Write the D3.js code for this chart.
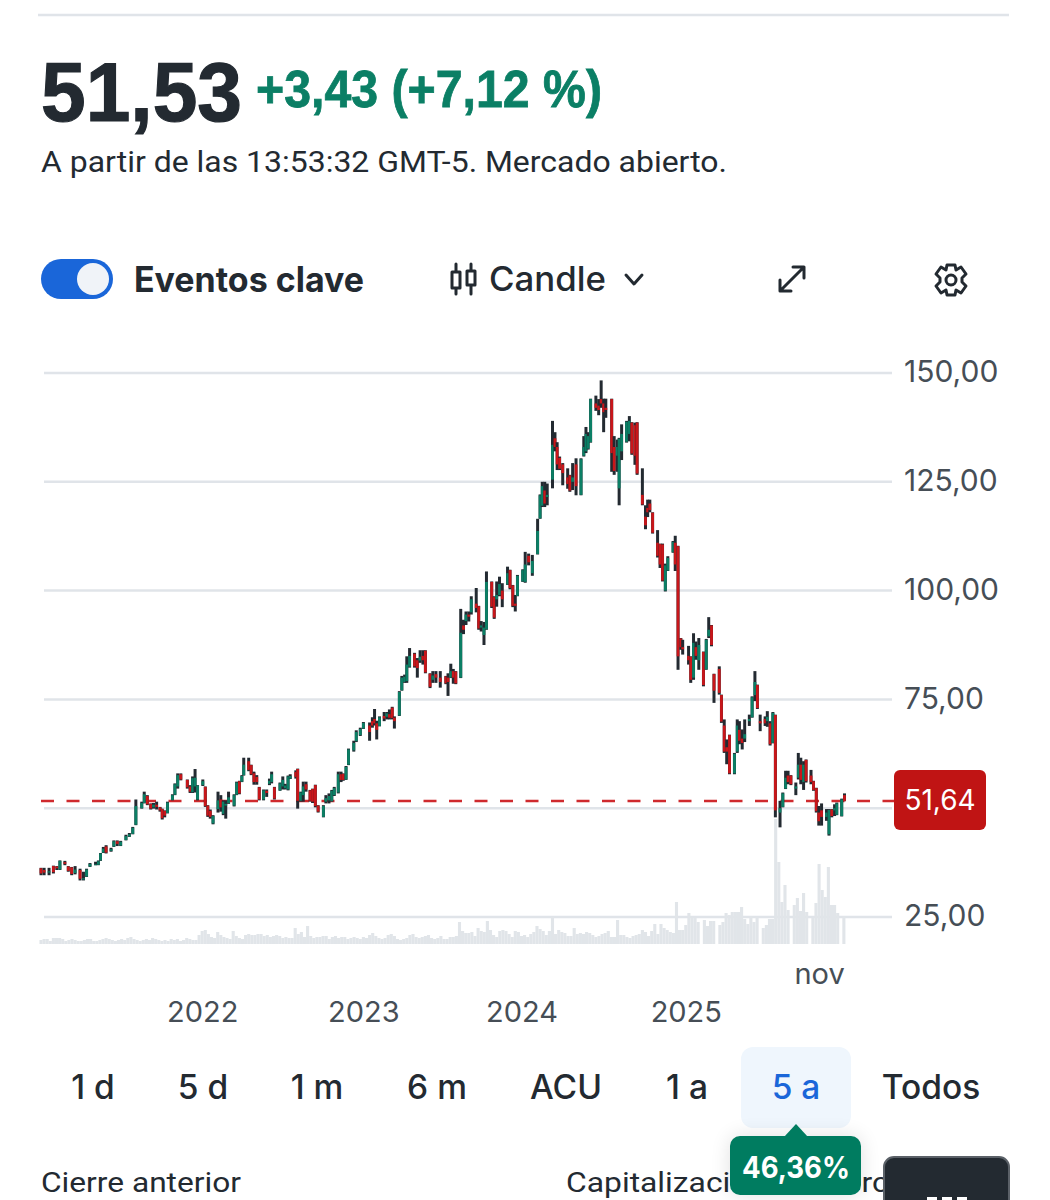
<!DOCTYPE html>
<html>
<head>
<meta charset="utf-8">
<script src="https://cdn.jsdelivr.net/npm/d3@7"></script>
<style>
html, body { margin: 0; padding: 0; background: #fff; }
svg { display: block; font-family: Inter, "Liberation Sans", sans-serif; }
.axis path, .axis line { display: none; }
</style>
</head>
<body>
<svg id="chart" width="1050" height="1200"></svg>
<script>
// semana de cada vela
var weeks = [
    0,1,2.6,4,5.1,6.1,7.7,8.8,9.9,11,
    12.6,13.7,14.7,15.8,17.6,18.5,19.2,20.1,21,22.6,
    23.5,24.6,25.7,27.4,28.5,29.6,30.6,32.5,33.3,34.3,
    35.4,36.3,37.3,38.4,39.1,39.9,40.8,42.4,43.2,44.1,
    45.1,47.2,48.1,48.9,49.7,50.5,52.2,53,53.8,54.6,
    55.5,57.1,58,58.8,59.6,60.5,62.3,63.1,64,64.8,
    65.4,67,67.8,68.7,69.6,70.4,71.8,72.8,73.7,74.4,
    75.3,77.1,78,78.8,79.7,80.4,82.2,82.8,83.8,84.6,
    85.5,86.8,87.6,88.5,89.4,91.1,91.9,92.9,93.8,94.6,
    95.9,96.8,97.5,98.4,99.2,100.9,101.7,103,104,106,
    106.9,107.6,108.3,109.2,110.7,111.6,112.4,113.3,114,115.6,
    116.4,117.3,118,118.9,120.5,121.4,122.3,123.2,124,125.5,
    126.4,127.4,128.8,130.6,131.3,132.2,133,133.8,135.4,136.3,
    137.1,138,138.8,140.4,141.2,142,142.9,143.7,145.4,146.2,
    147,147.9,148.8,150.5,151.3,152.2,153,153.7,155.4,156.2,
    157.3,158.5,160.2,161,161.7,162.5,163.3,165,165.8,166.5,
    167.3,168.3,169.9,170.6,171.5,172.6,174.2,175.1,175.8,176.5,
    177.3,179,179.9,180.7,181.5,182.2,184.1,184.9,185.9,186.5,
    187.3,188.9,189.8,190.6,191.6,192.3,194,195,195.7,196.4,
    197.3,198.9,199.7,200.5,201.4,202.2,203.9,204.6,205.5,206.4,
    207,208.9,209.6,210.5,211.3,212.2,213.7,214.6,215.4,216.3,
    217.1,218.8,219.5,220.4,221.2,222.1,223.7,224.6,225.3,226.2,
    227,228.5,229.4,230.3,231.1,232,233.6,234.3,235.2,236.1,
    236.9,238.4,239.3,240.2,241,241.9,243.5,244.3,245.1,246,
    246.8,248.4,249.2,250.1,250.9,251.8,253.4,254.2,255.1,256,
    256.7,258.3,259.2
];
var highs = [
    36.3,36.3,36.3,36.8,36.7,38,37.9,36.7,36.5,36.7,
    36.1,35.4,36.1,37.4,37.7,38,39.7,41.1,41.5,40.9,
    42.6,42.6,42.5,43.9,44.3,45.7,52,51.5,53.8,53,
    51.1,51.2,51.5,50.3,49.9,49.5,51.5,53.2,55.7,58,
    58,56.6,55.3,57.3,59,55.3,56.6,55,50.7,49.7,
    48.4,53.8,53,51.8,51.8,53.8,53.2,56.1,56.3,57.6,
    61.6,61.6,60,58.4,57.6,54.9,54.3,54.3,56.8,58.4,
    54.9,55.9,57.3,55.6,57.5,57.8,58.7,59.1,53.8,56.1,
    56.1,54.2,54.5,55.4,50.7,50.7,53,53.4,54.2,54.9,
    58.4,58.4,58,59.7,63.7,65.5,67.9,68.5,69.8,69.7,
    70.9,72.8,70.1,71.1,72.1,72.1,72.7,73.3,71.1,76.9,
    80.4,80.7,84.9,86.8,85.7,84.5,86.3,86.3,86.3,81,
    81.5,81.5,81.5,80.4,81,83.2,82,81.5,95.8,93.3,
    95.2,95.2,98.7,100.6,96.5,93,92.8,104.4,102.1,98.7,
    102.1,103.2,101.7,105.5,104.8,101.3,99,103.6,104.9,108.9,
    108.5,108.2,116.5,122.1,125,125,124.6,139,136.4,134.1,
    130.8,129.3,128.1,126.6,129.3,130.4,130.4,135.5,137.6,136.4,
    144.1,144.8,144,148.3,144.1,144.1,144.1,135.5,134.7,135.1,
    138.2,139,140.1,138.7,138.6,138.7,128.1,119.6,120.9,120.9,
    118,113.9,110.8,110.8,106.2,107.9,111.4,112.6,110.3,89.1,
    88.7,87.3,84.9,90.2,88.3,89.1,86,88.9,93.9,92.1,
    80.9,82.6,76.1,70.4,65.8,66.9,62.7,70.4,70,68.1,
    70.4,71.5,75.7,81.5,78.4,71.5,71.1,72.3,70,72.1,
    71.5,51.7,53.6,58.6,58.6,57.6,55.9,62.7,61.6,60.8,
    61.2,58.8,56.3,54.7,50.5,51.1,49.8,49.8,49.8,50.9,
    51.3,52.2,53.4
];
var lows = [
    34.6,34.6,34.6,35,35.8,35.8,36.9,35.4,34.6,34.8,
    33.4,33.4,34.2,36.5,36.9,36.9,37.9,39.7,39.6,40,
    41.1,41.3,41.3,42.6,43.4,44,46.1,49.9,51.1,50.7,
    49.7,49.9,49.7,49.2,47.4,47.9,48.8,51.8,53,54.5,
    56.4,54.5,53.5,53.5,53.6,51.8,55.1,50.3,48,47.6,
    46.3,49,49.2,48.4,47.6,51,50.4,53,53.2,56,
    57.5,58.5,57.6,55.4,55.4,51.8,51.8,52.6,55.3,55.7,
    52,54,54.3,54.3,54.1,56.7,56.8,49.9,51.5,51.5,
    53.8,51.5,51.2,50.2,49,47.9,51.1,51.1,51.5,52.8,
    53.4,56,56.3,56.5,59.9,63,65.2,66.6,68.2,65.5,
    68.5,69,65.8,68.8,70,70.4,70.4,70.4,68.3,71.2,
    77,78.8,78.8,82.3,82.3,80,83.4,83,81,77.6,
    78.8,78.8,77.7,78.5,75.8,79.9,78.6,78.5,79.9,90,
    92.1,92.9,94.5,95,91,90.6,87.5,91,96,93.5,
    96.3,98.7,96.2,101.3,100.3,96.2,95.2,98.7,102,101.8,
    105.8,103.4,108.3,116.5,119.2,119.2,119.6,123.5,132,127.7,
    127.7,124.2,123.4,122.7,123.1,121.9,121.9,130.8,131.6,132.4,
    134,141.3,140.3,142,136.4,139.7,127.3,126.6,127.3,119.6,
    130,134,134.3,131.2,128.9,126.6,119.6,114.1,116.9,118,
    113.1,107.6,105.2,102.1,99.8,104.5,108.7,104.5,81.8,86.4,
    85.3,83,78.8,79.5,84.1,81.8,78,81.8,89.1,87.2,
    74.2,76.1,69.6,62.7,60.1,57.8,57.8,62.7,64.7,63.5,
    65.2,68.9,70.8,74.6,72.8,67.7,68.9,68.7,64.4,64.9,
    47.9,45.6,50.2,54.4,55.5,55.3,53,56.6,55.5,54.2,
    55.9,55.5,54,49,46,46,47.1,43.7,47.9,48.2,
    48.4,48.1,51.6
];
var opens = [
    36.2,35.8,35.2,36.7,36.6,35.9,37.6,36.6,36.4,35.1,
    35.8,33.6,34.3,36.6,36.9,37,38,39.8,41.2,40.2,
    41.2,42.4,41.4,42.7,43.5,44.1,46.2,50,51.2,52.8,
    51,50.2,50.8,50.2,49.8,49.4,48.9,51.9,53.1,55,
    57.8,56.5,55,53.7,55,52,55.3,54.9,50.6,49.4,
    46.5,49.8,52,48.7,50.6,51.2,50.6,53.1,56.2,56.1,
    57.6,60.8,59.9,58,57.2,54.8,52,54,55.6,56,
    54.8,54.1,55,54.6,54.3,56.8,58.3,59,51.7,53,
    55.5,54.1,54.4,55.3,50.6,48,51.5,51.8,51.6,53,
    53.6,57.8,57.9,56.6,60,63.3,65.4,66.8,68.3,69,
    70,70.5,69.5,68.9,71.2,71,71.6,73.1,70.8,71.3,
    77.1,79,79.2,82.5,85.5,84,83.9,85,86.2,80.9,
    79.5,80.8,80,80.3,80,80,81.5,81.4,80,92,
    93,94.5,95,97,96.4,91.5,89.8,91.1,102,98.5,
    98,99,100,101.4,104.7,101.2,97,98.8,102.1,102,
    108,104,108.4,116.6,119.5,123,121.5,125.5,135,133,
    130.5,129,126,126.5,125,129,122,131,132,132.6,
    134.1,143,142.5,144,143,142,144,133,131,123.5,
    132,134.2,136,138.6,138,138.6,122,117,119,120,
    117.9,111,110.7,110.6,100,104.6,108.8,111,110.2,89,
    87,85,84.8,80,87,84,85.9,81.9,89.5,92,
    80.8,82,76,69,64,66.8,58,63,68,66,
    66,70,70.9,76,78.3,70,70.5,70,69.5,65,
    71.4,49,50.3,54.5,57.5,57.5,54.5,57,60,56,
    61.1,57.5,56.2,54.6,49,49.5,48,44,49.7,49.5,
    48.5,48.2,53
];
var closes = [
    35,35.2,35.5,35.3,36.2,37.9,37.2,35.6,34.9,35.9,
    33.8,33.9,35.9,37.2,37.1,37.8,39.6,40.7,39.8,40.6,
    42.4,41.8,42.3,43.6,44,45.5,50.5,51.2,53.2,50.9,
    49.9,50.8,50.3,49.5,47.7,48.3,51.3,53,55.5,57.6,
    56.6,54.8,53.8,56.9,57,55.2,56.2,50.5,48.3,48,
    48.2,51.8,50.2,51.5,51,52.5,53,55.9,53.4,57.4,
    60,58.8,57.8,56,56,52,54.1,53.5,56.3,57.8,
    52.2,55.7,56.5,55.2,57.3,57.4,57.2,51.7,53.6,55,
    54.3,51.7,51.5,50.5,49.2,50.5,52.3,52.8,54,54.6,
    57.8,56.5,56.5,59.5,63.5,65,67.5,68.2,69.6,67.5,
    69,69.5,68,70.9,70.6,71.8,70.8,70.7,70,76.7,
    80,80.2,83,85,82.6,82.2,84.8,84,81.2,77.9,
    80.5,80,79,78.7,79,81.5,80,78.7,90.3,91,
    94.5,94,98,96,91.3,92,91.5,102,96.3,93.8,
    99,101.5,98,104,100.6,96.5,96.5,103.4,104.7,106,
    106.5,106.8,113.7,121.9,124,120,122,133.5,133,129,
    128,127,124.5,123,126,124,130.2,133,136,135.5,
    144,142,141.5,143,141,141.5,131.6,127.5,133,134.9,
    136,138.8,139,131.5,131,126.9,119.8,115,118,118.5,
    113.3,108,106,102.3,105.8,107.5,111.2,106,84.9,87,
    86.5,84,79.5,88,85,87.5,78.3,88.7,91,87.5,
    77,76.5,69.9,63,63,58,62.5,69,65.5,65,
    67,70.5,75.5,79,73,69.5,69.5,71,64.7,71.9,
    49.5,50,53.4,57,56,55.5,55,60,56.5,60,
    56.2,56,54.2,49.3,47,48,49,49.6,48.2,50,
    51.1,52,51.64
];
// volumen semanal, una barra por semana
var volumes = [
    4,5,5,3,6,6,6,5,3,4,5,4,3,3,4,5,5,3,3,4,
    5,6,5,4,3,4,5,4,6,7,5,4,3,4,5,4,6,5,4,3,
    4,3,5,4,5,3,4,6,5,4,4,9,13,14,10,7,6,12,9,7,
    6,5,13,8,6,5,9,10,9,9,10,10,8,9,7,8,9,8,6,7,
    6,6,16,10,12,7,18,8,6,7,7,8,8,5,7,8,6,7,7,5,
    6,7,6,5,7,6,9,11,8,6,5,6,9,10,8,5,4,5,6,9,
    10,7,6,7,8,9,6,5,6,8,5,5,7,7,8,22,13,11,11,12,
    8,16,13,12,23,14,9,7,13,14,13,10,7,13,12,8,9,7,10,12,
    18,15,13,9,13,27,10,14,12,11,8,8,16,10,11,10,12,11,9,7,
    8,10,11,13,7,7,24,9,9,7,6,8,9,10,14,12,8,13,20,10,
    20,16,14,12,11,42,14,14,19,31,26,26,22,0,24,18,23,23,0,19,
    22,31,29,32,32,32,37,25,20,28,22,27,0,16,19,25,25,125,82,42,
    59,34,0,39,46,33,51,32,0,26,41,80,54,47,77,39,39,31,0,28
];

var priceTicks = [25, 50, 75, 100, 125, 150];
var yearWeeks = [52, 104, 155, 208];
var yearLabels = ["2022", "2023", "2024", "2025"];
var monthWeeks = [251];
var monthLabels = ["nov"];
var lastPrice = 51.64;
var rangeLabels = ["1 d", "5 d", "1 m", "6 m", "ACU", "1 a", "5 a", "Todos"];
var rangeCenters = [93, 203, 317, 437, 566, 687, 796, 931];

var INK = "#232a31", GREEN = "#0b7f65", RED = "#c8161a", GRID = "#e0e4e9", AXIS = "#464e56";

var candles = weeks.map(function (w, i) {
    return { week: w, high: highs[i], low: lows[i], open: opens[i], close: closes[i] };
});

var svg = d3.select("#chart");
var x = d3.scaleLinear().domain([0, 259.2]).range([41, 844.5]);
var y = d3.scaleLinear().domain([25, 150]).range([917, 373]);
var yVol = d3.scaleLinear().domain([0, 125]).range([944, 819]);
var es = d3.formatLocale({ decimal: ",", thousands: ".", grouping: [3], currency: ["", " €"] });
var priceFmt = es.format(".2f");

// cabecera
svg.append("line").attr("x1", 38).attr("x2", 1009).attr("y1", 15).attr("y2", 15)
    .attr("stroke", GRID).attr("stroke-width", 2.5);

function label(sel, txt, px, py, size, weight, color, font, len) {
    var t = sel.append("text").attr("x", px).attr("y", py).text(txt)
        .attr("font-size", size).attr("font-weight", weight).attr("fill", color);
    if (font) t.attr("font-family", font);
    if (len) t.attr("textLength", len).attr("lengthAdjust", "spacingAndGlyphs");
    return t;
}

label(svg, "51,53", 41, 121, 84, 700, INK, "'Liberation Sans'", 201)
    .attr("stroke", INK).attr("stroke-width", 1.2);
label(svg, "+3,43 (+7,12 %)", 256, 107, 52, 700, GREEN, "'Liberation Sans'", 346)
    .attr("stroke", GREEN).attr("stroke-width", 0.8);
label(svg, "A partir de las 13:53:32 GMT-5. Mercado abierto.", 41, 172, 29, 400, INK, "Roboto", 686);

// controles
svg.append("rect").attr("x", 41).attr("y", 259).attr("width", 72).attr("height", 40)
    .attr("rx", 20).attr("fill", "#1a66d9");
svg.append("circle").attr("cx", 93).attr("cy", 279).attr("r", 16).attr("fill", "#f0f3f8");
label(svg, "Eventos clave", 134, 292, 35, 700, INK, "Inter", 230);
label(svg, "Candle", 489, 291, 34, 500, INK, "Inter", 117);

var icons = svg.append("g").attr("fill", "none").attr("stroke", INK)
    .attr("stroke-width", 3).attr("stroke-linecap", "round").attr("stroke-linejoin", "round");
icons.append("path").attr("d", "M456 264V272M456 288V294M452 272H460V288H452ZM471 264V271M471 285V294M467 271H475V285H467Z");
icons.append("path").attr("d", "M626 275L634 284L642 275");
icons.append("path").attr("d", "M780 291L804 267M793 267H804V278M780 280V291H791");
icons.append("circle").attr("cx", 951).attr("cy", 280).attr("r", 5);
icons.append("path").attr("d", "M947 265H955L956 270L961 267L966 274L962 278V282L966 286L961 293L956 290L955 295H947L946 290L941 293L936 286L940 282V278L936 274L941 267L946 270Z");

// rejilla y ejes de precio
var yAxis = d3.axisRight(y).tickValues(priceTicks).tickSize(0)
    .tickFormat(function (d) { return d === 50 ? "" : priceFmt(d); });
var gy = svg.append("g").attr("class", "axis").attr("transform", "translate(904,-1)").call(yAxis);
gy.selectAll("text").attr("x", 0).attr("font-size", 30).attr("font-family", "Inter")
    .attr("fill", AXIS).attr("dy", "0.33em");

svg.append("g").selectAll("line").data(priceTicks).enter().append("line")
    .attr("x1", 44).attr("x2", 892)
    .attr("y1", function (d) { return y(d); })
    .attr("y2", function (d) { return y(d); })
    .attr("stroke", GRID).attr("stroke-width", 2.5);

// volumen
svg.append("g").selectAll("rect").data(volumes).enter().append("rect")
    .attr("x", function (d, i) { return x(i) - 1.55; })
    .attr("width", 3.1)
    .attr("y", function (d) { return yVol(d); })
    .attr("height", function (d) { return yVol(0) - yVol(d); })
    .attr("fill", "#e1e5e9");

// ultimo precio
svg.append("line").attr("x1", 41).attr("x2", 894)
    .attr("y1", y(lastPrice)).attr("y2", y(lastPrice))
    .attr("stroke", "#cf2a2e").attr("stroke-width", 2.4).attr("stroke-dasharray", "13 12.5");

// velas
var candle = svg.append("g").selectAll("g").data(candles).enter().append("g");
candle.append("line")
    .attr("x1", function (d) { return x(d.week); })
    .attr("x2", function (d) { return x(d.week); })
    .attr("y1", function (d) { return y(d.high); })
    .attr("y2", function (d) { return y(d.low); })
    .attr("stroke", INK).attr("stroke-width", 3);
candle.append("rect")
    .attr("x", function (d) { return x(d.week) - 1.4; })
    .attr("width", 2.8)
    .attr("y", function (d) { return y(Math.max(d.open, d.close)); })
    .attr("height", function (d) { return Math.abs(y(d.open) - y(d.close)); })
    .attr("fill", function (d) { return d.close >= d.open ? GREEN : RED; });

// etiqueta de precio
svg.append("rect").attr("x", 894).attr("y", 770).attr("width", 92).attr("height", 60)
    .attr("rx", 6).attr("fill", "#c01414");
label(svg, priceFmt(lastPrice), 940, 810, 28, 400, "#fff", "Inter").attr("text-anchor", "middle");

// ejes de tiempo
var xMonth = d3.axisBottom(x).tickValues(monthWeeks).tickSize(0)
    .tickFormat(function (d, i) { return monthLabels[i]; });
var xYear = d3.axisBottom(x).tickValues(yearWeeks).tickSize(0)
    .tickFormat(function (d, i) { return yearLabels[i]; });
svg.append("g").attr("class", "axis").attr("transform", "translate(0,974)").call(xMonth);
svg.append("g").attr("class", "axis").attr("transform", "translate(0,1012)").call(xYear);
svg.selectAll(".axis").filter(function (d, i) { return i > 0; }).selectAll("text")
    .attr("y", 0).attr("dy", "0.35em").attr("font-size", 29).attr("font-family", "Inter").attr("fill", AXIS);

// selector de rango
svg.append("rect").attr("x", 741).attr("y", 1047).attr("width", 110).attr("height", 81)
    .attr("rx", 12).attr("fill", "#eff6fd");
svg.append("g").selectAll("text").data(rangeLabels).enter().append("text")
    .attr("x", function (d, i) { return rangeCenters[i]; })
    .attr("y", 1099)
    .attr("text-anchor", "middle")
    .attr("font-family", "Inter").attr("font-size", 33.5).attr("font-weight", 500)
    .attr("fill", function (d) { return d === "5 a" ? "#1a66d9" : INK; })
    .text(function (d) { return d; });

// pie
label(svg, "Cierre anterior", 41, 1192, 28, 400, INK, "Roboto", 200);
label(svg, "Capitalización de mercado", 566, 1192, 28, 400, INK, "Roboto", 376);

var defs = svg.append("defs");
var blur = defs.append("filter").attr("id", "sombra").attr("x", "-30%").attr("y", "-30%")
    .attr("width", "160%").attr("height", "160%");
blur.append("feGaussianBlur").attr("stdDeviation", 10);
svg.append("rect").attr("x", 730).attr("y", 1136).attr("width", 131).attr("height", 59)
    .attr("rx", 10).attr("fill", "#000").attr("opacity", 0.12).attr("filter", "url(#sombra)");
svg.append("path").attr("d", "M784 1137L796 1124L808 1137Z").attr("fill", "#007c60");
svg.append("rect").attr("x", 730).attr("y", 1136).attr("width", 131).attr("height", 59)
    .attr("rx", 10).attr("fill", "#007c60");
label(svg, "46,36%", 796, 1178, 30, 700, "#fff", "Inter", 108).attr("text-anchor", "middle");

svg.append("rect").attr("x", 884).attr("y", 1157).attr("width", 125).attr("height", 60)
    .attr("rx", 10).attr("fill", INK).attr("stroke", "#5b6168").attr("stroke-width", 2);
svg.append("line").attr("x1", 927).attr("x2", 967).attr("y1", 1198.5).attr("y2", 1198.5)
    .attr("stroke", "#fff").attr("stroke-width", 3).attr("stroke-dasharray", "10 5");
</script>
</body>
</html>
